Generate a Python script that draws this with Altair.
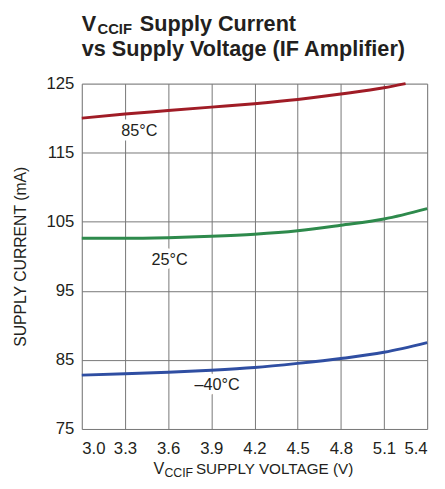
import altair as alt
import pandas as pd

# ---- data ----
volts = [3.0, 3.3, 3.6, 3.9, 4.2, 4.5, 4.8, 5.1, 5.4]
volts_85 = [3.0, 3.3, 3.6, 3.9, 4.2, 4.5, 4.8, 5.1, 5.25]
cur_85 = [120.0, 120.6, 121.1, 121.6, 122.1, 122.7, 123.5, 124.4, 125.0]
cur_25 = [102.6, 102.6, 102.7, 102.9, 103.2, 103.7, 104.5, 105.4, 106.9]
cur_m40 = [82.8, 83.0, 83.2, 83.5, 83.9, 84.5, 85.2, 86.1, 87.5]
series = ["85°C", "25°C", "–40°C"]
colors = ["#a01c26", "#2e8a4c", "#2f4ea2"]
label_v = [3.40, 3.61, 3.94]
label_i = [118.2, 99.5, 81.3]
x_ticks = [3.0, 3.3, 3.6, 3.9, 4.2, 4.5, 4.8, 5.1, 5.4]
y_ticks = [75, 85, 95, 105, 115, 125]
title_main = ["V", "CCIF", "Supply Current", "vs Supply Voltage (IF Amplifier)"]
x_title = ["V", "CCIF", "SUPPLY VOLTAGE (V)"]
y_title = "SUPPLY CURRENT (mA)"

FONT = "Liberation Sans, Arial, sans-serif"
TXT = "#231f20"

rows = []
for v, c in zip(volts_85, cur_85):
    rows.append({"V": v, "I": c, "T": series[0]})
for v, c in zip(volts, cur_25):
    rows.append({"V": v, "I": c, "T": series[1]})
for v, c in zip(volts, cur_m40):
    rows.append({"V": v, "I": c, "T": series[2]})
df = pd.DataFrame(rows)
labels = pd.DataFrame({"V": label_v, "I": label_i, "T": series})

xs = alt.Scale(domain=[3.0, 5.4], nice=False, zero=False)
ys = alt.Scale(domain=[75, 125], nice=False, zero=False)

x_enc = alt.X("V:Q", scale=xs, axis=alt.Axis(
    values=x_ticks, format=".1f", title=None, grid=True, ticks=False, domain=False,
    labelFont=FONT, labelFontSize=17, labelColor=TXT, labelPadding=12,
    gridColor="#767676", gridWidth=1, gridOpacity=1))
y_enc = alt.Y("I:Q", scale=ys, axis=alt.Axis(
    values=y_ticks, format="d", title=y_title, grid=True, ticks=False, domain=False,
    labelFont=FONT, labelFontSize=17, labelColor=TXT, labelPadding=8,
    gridColor="#767676", gridWidth=1, gridOpacity=1,
    titleFont=FONT, titleFontSize=16, titleFontWeight="normal", titleColor=TXT,
    titleX=-62, titleY=175.5, titleAlign="center", titleBaseline="middle"))

lines = alt.Chart(df).mark_line(strokeWidth=3, interpolate="monotone").encode(
    x=x_enc, y=y_enc,
    color=alt.Color("T:N", scale=alt.Scale(domain=series, range=colors), legend=None),
    detail="T:N",
)

halo = alt.Chart(labels).mark_text(
    font=FONT, fontSize=16.5, color="white", stroke="white", strokeWidth=9,
    strokeJoin="round", baseline="middle", align="center").encode(
    x=alt.X("V:Q", scale=xs), y=alt.Y("I:Q", scale=ys), text="T:N")
ltext = alt.Chart(labels).mark_text(
    font=FONT, fontSize=16.5, color=TXT, baseline="middle", align="center").encode(
    x=alt.X("V:Q", scale=xs), y=alt.Y("I:Q", scale=ys), text="T:N")


def txt(s, x, y, size, weight="normal"):
    return alt.Chart(pd.DataFrame({"s": [s]})).mark_text(
        font=FONT, fontSize=size, fontWeight=weight, color=TXT,
        align="left", baseline="alphabetic").encode(
        x=alt.value(x), y=alt.value(y), text="s:N")


t1 = txt(title_main[0], 0, -53, 22, "bold")
t2 = txt(title_main[1], 16, -50, 15, "bold")
t3 = txt(title_main[2], 59, -53, 22, "bold")
t4 = txt(title_main[3], 0, -28, 22, "bold")
xt1 = txt(x_title[0], 73, 397, 16.5)
xt2 = txt(x_title[1], 84, 400, 12.5)
xt3 = txt(x_title[2], 116, 397, 15.5)

chart = alt.layer(lines, halo, ltext, t1, t2, t3, t4, xt1, xt2, xt3).properties(
    width=351, height=351,
    autosize=alt.AutoSizeParams(type="none"),
    padding={"left": 75, "top": 73, "right": 10, "bottom": 49},
).configure_view(stroke="#333333", strokeWidth=1.5).configure(background="white")

chart.save("out.html", embed_options={"renderer": "svg", "actions": False})
